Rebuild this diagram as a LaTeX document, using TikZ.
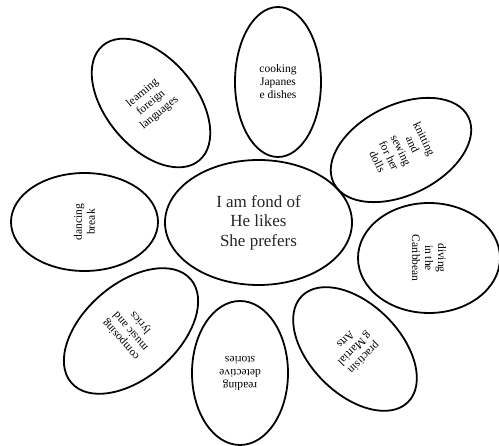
\documentclass[tikz,border=0pt]{standalone}
\usepackage{fontspec}
\setmainfont{Liberation Serif}
\usetikzlibrary{shapes.geometric}
\tikzset{
  petal/.style={draw=black, line width=1.8pt, ellipse, inner sep=0pt, align=center,
    font=\fontsize{11.5}{13}\selectfont},
  hub/.style={draw=black, line width=1.8pt, ellipse, inner sep=0pt, align=center,
    font=\fontsize{17}{19.5}\selectfont, text=black!85}
}
\begin{document}
\begin{tikzpicture}[x=1pt,y=-1pt]
\useasboundingbox (0,0) rectangle (499,446);
\node[hub, minimum width=187pt, minimum height=125pt] (center) at (258.5,222.5)
  {I am fond of\\He likes\\She prefers};
\node[petal, minimum width=86pt, minimum height=150pt] (cook) at (278,82)
  {cooking\\Japanes\\e dishes};
\node[petal, minimum width=90pt, minimum height=150pt, rotate=40] (learn) at (151,103)
  {learning\\foreign\\languages};
\node[petal, minimum width=90pt, minimum height=150pt, rotate=-64] (knit) at (401,150)
  {knitting\\and\\sewing\\for her\\dolls};
\node[petal, minimum width=110pt, minimum height=142pt, rotate=-90] (dive) at (429,258)
  {diving\\in the\\Caribbean};
\node[petal, minimum width=90pt, minimum height=150pt, rotate=-135] (martial) at (355,349)
  {practisin\\g Martial\\Arts};
\node[petal, minimum width=96pt, minimum height=144pt, rotate=180] (read) at (240,373)
  {reading\\detective\\stories};
\node[petal, minimum width=94pt, minimum height=158pt, rotate=131] (compose) at (131,331)
  {composing\\music and\\lyrics};
\node[petal, minimum width=98pt, minimum height=147pt, rotate=90] (dance) at (84.5,222)
  {dancing\\break};
\end{tikzpicture}
\end{document}
